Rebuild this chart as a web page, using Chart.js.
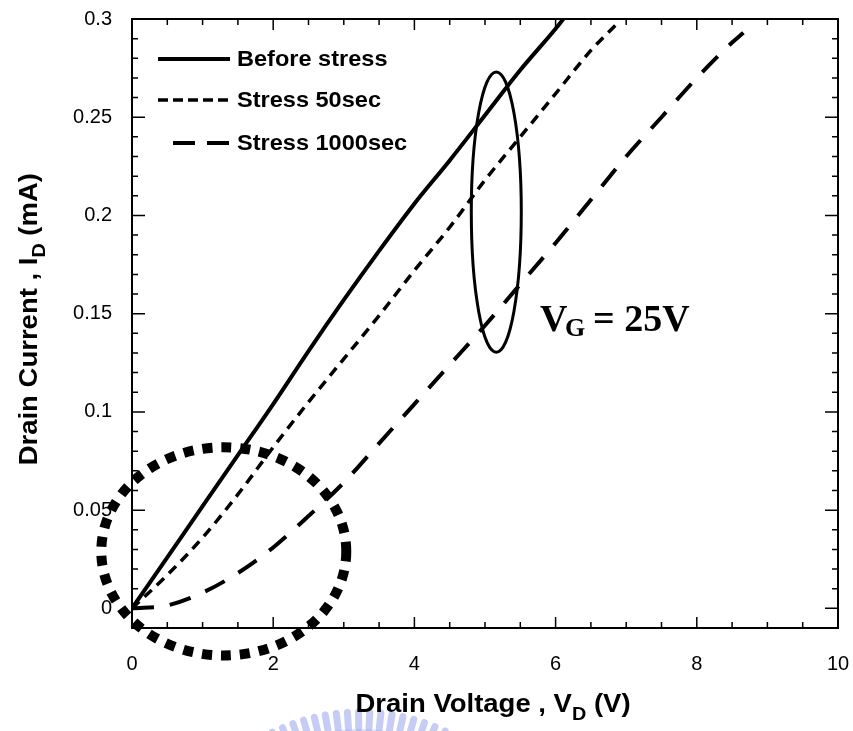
<!DOCTYPE html>
<html>
<head>
<meta charset="utf-8">
<script src="https://cdn.jsdelivr.net/npm/chart.js@4.4.1/dist/chart.umd.min.js"></script>
<style>
  html, body { margin: 0; padding: 0; background: #fff; }
  #wrap { width: 853px; height: 731px; }
</style>
</head>
<body>
<div id="wrap"><canvas id="chartCanvas" width="853" height="731"></canvas></div>
<script>
// I-V curves, drain voltage (V) vs drain current (mA)
const seriesLabels = ["Before stress", "Stress 50sec", "Stress 1000sec"];

const vdBefore = [0, 0.5, 1, 1.5, 2, 2.5, 3, 3.5, 4, 4.5, 5, 5.5, 6, 6.11];
const idBefore = [0, 0.026, 0.052, 0.078, 0.104, 0.131, 0.157, 0.182, 0.206, 0.228, 0.251, 0.274, 0.295, 0.3];

const vdStress50 = [0, 0.5, 1, 1.5, 2, 2.5, 3, 3.5, 4, 4.5, 5, 5.5, 6, 6.5, 6.88];
const idStress50 = [0, 0.017, 0.036, 0.058, 0.082, 0.105, 0.127, 0.149, 0.172, 0.194, 0.218, 0.24, 0.262, 0.284, 0.298];

const vdStress1000 = [0, 0.5, 1, 1.5, 2, 2.5, 3, 3.5, 4, 4.5, 5, 5.5, 6, 6.5, 7, 7.5, 8, 8.5, 8.66];
const idStress1000 = [0, 0.0015, 0.008, 0.018, 0.031, 0.047, 0.064, 0.084, 0.104, 0.124, 0.144, 0.165, 0.186, 0.208, 0.23, 0.25, 0.27, 0.288, 0.293];

const xTickValues = [0, 2, 4, 6, 8, 10];
const yTickValues = [0, 0.05, 0.1, 0.15, 0.2, 0.25, 0.3];

const FONT = "'Liberation Sans', Arial, sans-serif";
const SERIF = "'Liberation Serif', 'Times New Roman', serif";

const toPoints = (xs, ys) => xs.map((v, i) => ({ x: v, y: ys[i] }));

const lineStyle = (dash, width) => ({
  showLine: true,
  borderColor: "#000",
  backgroundColor: "#000",
  borderWidth: width,
  borderDash: dash,
  pointRadius: 0,
  fill: false,
  cubicInterpolationMode: "monotone",
});

const styles = [
  lineStyle([], 4),
  lineStyle([10, 7], 3.5),
  lineStyle([22, 16], 4),
];

// fixed plot frame
const FRAME = { left: 132, right: 838, top: 19, bottom: 628 };

function stretchText(ctx, text, x0, y0, hs) {
  ctx.save();
  ctx.translate(x0, y0);
  ctx.scale(hs, 1);
  ctx.fillText(text, 0, 0);
  ctx.restore();
}

// main text, subscript, tail; starts at sx with baseline at by
function drawTitle(ctx, parts, sx, by, hs) {
  const big = "bold 25px " + FONT, small = "bold 18px " + FONT;
  ctx.textBaseline = "alphabetic";
  ctx.textAlign = "left";
  ctx.font = big; const w0 = ctx.measureText(parts[0]).width * hs;
  ctx.font = small; const w1 = ctx.measureText(parts[1]).width * hs;
  ctx.font = big;
  stretchText(ctx, parts[0], sx, by, hs); sx += w0;
  ctx.font = small; stretchText(ctx, parts[1], sx, by + 8, hs); sx += w1;
  ctx.font = big; stretchText(ctx, parts[2], sx, by, hs);
}

function titleWidth(ctx, parts, hs) {
  ctx.font = "bold 25px " + FONT;
  let w = ctx.measureText(parts[0]).width + ctx.measureText(parts[2]).width;
  ctx.font = "bold 18px " + FONT;
  w += ctx.measureText(parts[1]).width;
  return w * hs;
}

// pale blue crest under the x title
function drawCrest(ctx) {
  const cx = 360, cy = 912, r0 = 184, r1 = 200;
  ctx.save();
  ctx.strokeStyle = "rgba(128, 142, 228, 0.45)";
  ctx.lineWidth = 7;
  ctx.lineCap = "round";
  ctx.beginPath();
  for (let deg = -116; deg <= -64; deg += 3.2) {
    const t = deg * Math.PI / 180;
    ctx.moveTo(cx + r0 * Math.cos(t), cy + r0 * Math.sin(t));
    ctx.lineTo(cx + r1 * Math.cos(t), cy + r1 * Math.sin(t));
  }
  ctx.stroke();
  ctx.strokeStyle = "rgba(150, 162, 232, 0.35)";
  ctx.lineWidth = 10;
  ctx.beginPath();
  ctx.arc(cx, cy, r0 - 6, -118 * Math.PI / 180, -62 * Math.PI / 180);
  ctx.stroke();
  ctx.restore();
}

// draws frame, inward ticks, rings, legend, labels and axis titles
const decor = {
  id: "decor",
  afterDraw(chart) {
    const { ctx, chartArea: a, scales: { x, y } } = chart;
    drawCrest(ctx);
    ctx.save();
    ctx.strokeStyle = "#000";
    ctx.fillStyle = "#000";

    ctx.lineWidth = 2;
    ctx.strokeRect(a.left, a.top, a.right - a.left, a.bottom - a.top);

    ctx.lineWidth = 1.5;
    ctx.beginPath();
    for (let i = 0; i <= 20; i++) {
      const px = x.getPixelForValue(i * 0.5);
      const len = i % 4 === 0 ? 11 : 6;
      ctx.moveTo(px, a.bottom); ctx.lineTo(px, a.bottom - len);
      ctx.moveTo(px, a.top); ctx.lineTo(px, a.top + len);
    }
    for (let i = 0; i <= 30; i++) {
      const py = y.getPixelForValue(i / 100);
      const len = i % 5 === 0 ? 13 : 6;
      ctx.moveTo(a.left, py); ctx.lineTo(a.left + len, py);
      ctx.moveTo(a.right, py); ctx.lineTo(a.right - len, py);
    }
    ctx.stroke();

    const ring = (cx, cy, rx, ry) => {
      const px = x.getPixelForValue(cx);
      const py = y.getPixelForValue(cy);
      const prx = x.getPixelForValue(cx + rx) - px;
      const pry = py - y.getPixelForValue(cy + ry);
      ctx.beginPath();
      ctx.ellipse(px, py, prx, pry, 0, 0, Math.PI * 2);
      ctx.stroke();
    };

    // thin ring around the curves at VD ~ 5V
    ctx.lineWidth = 3;
    ring(5.16, 0.2017, 0.354, 0.0713);

    // heavy dotted ring at the origin
    ctx.lineWidth = 10;
    ctx.lineCap = "butt";
    ctx.setLineDash([10, 9]);
    ring(1.3, 0.029, 1.735, 0.053);
    ctx.setLineDash([]);

    // legend
    const lx0 = a.left + 26, lx1 = a.left + 98;
    const rows = [a.top + 40, a.top + 81, a.top + 124];
    ctx.font = "bold 22px " + FONT;
    ctx.textBaseline = "middle";
    ctx.textAlign = "left";
    chart.data.datasets.forEach((ds, i) => {
      const yy = rows[i];
      ctx.lineWidth = ds.borderWidth;
      ctx.setLineDash(i === 1 ? [10, 5] : i === 2 ? [22, 12] : []);
      ctx.beginPath();
      ctx.moveTo(i === 2 ? lx0 + 15 : lx0, yy);
      ctx.lineTo(lx1, yy);
      ctx.stroke();
      ctx.setLineDash([]);
      stretchText(ctx, ds.label, a.left + 105, yy + 1, 1.07);
    });

    // gate voltage note
    const gx = x.getPixelForValue(5.78), gy = y.getPixelForValue(0.141);
    ctx.textBaseline = "alphabetic";
    ctx.font = "bold 38px " + SERIF;
    ctx.fillText("V", gx, gy);
    ctx.font = "bold 26px " + SERIF;
    ctx.fillText("G", gx + 25, gy + 5);
    ctx.font = "bold 38px " + SERIF;
    ctx.fillText("= 25V", gx + 53, gy);

    // axis titles
    const hs = 1.1;
    const xParts = ["Drain Voltage , V", "D", " (V)"];
    drawTitle(ctx, xParts, 493 - titleWidth(ctx, xParts, hs) / 2, 712, hs);
    const yParts = ["Drain Current , I", "D", " (mA)"];
    ctx.save();
    ctx.translate(37, 173 + titleWidth(ctx, yParts, hs));
    ctx.rotate(-Math.PI / 2);
    drawTitle(ctx, yParts, 0, 0, hs);
    ctx.restore();

    ctx.restore();
  },
};

new Chart(document.getElementById("chartCanvas"), {
  type: "scatter",
  data: {
    datasets: [
      { label: seriesLabels[0], data: toPoints(vdBefore, idBefore), ...styles[0] },
      { label: seriesLabels[1], data: toPoints(vdStress50, idStress50), ...styles[1] },
      { label: seriesLabels[2], data: toPoints(vdStress1000, idStress1000), ...styles[2] },
    ],
  },
  options: {
    responsive: false,
    animation: false,
    devicePixelRatio: 1,
    layout: { padding: { left: 0, right: 853 - FRAME.right, top: FRAME.top, bottom: 0 } },
    plugins: { legend: { display: false }, tooltip: { enabled: false } },
    scales: {
      x: {
        type: "linear",
        min: 0,
        max: 10,
        afterBuildTicks: (s) => { s.ticks = xTickValues.map((v) => ({ value: v })); },
        afterFit: (s) => {
          s.height = 731 - FRAME.bottom;
          s.paddingLeft = 0; s.paddingRight = 0;
        },
        grid: { display: false, drawTicks: false, tickLength: 0 },
        border: { display: false },
        ticks: {
          color: "#000",
          font: { family: FONT, size: 20 },
          padding: 24,
          maxRotation: 0,
          autoSkip: false,
          callback: (v) => String(v),
        },
      },
      y: {
        type: "linear",
        min: -0.01,
        max: 0.3,
        afterBuildTicks: (s) => { s.ticks = yTickValues.map((v) => ({ value: v })); },
        afterFit: (s) => {
          s.width = FRAME.left;
          s.paddingTop = 0; s.paddingBottom = 0;
        },
        grid: { display: false, drawTicks: false, tickLength: 0 },
        border: { display: false },
        ticks: {
          color: "#000",
          font: { family: FONT, size: 20 },
          padding: 20,
          autoSkip: false,
          callback: (v) => String(v),
        },
      },
    },
  },
  plugins: [decor],
});
</script>
</body>
</html>
